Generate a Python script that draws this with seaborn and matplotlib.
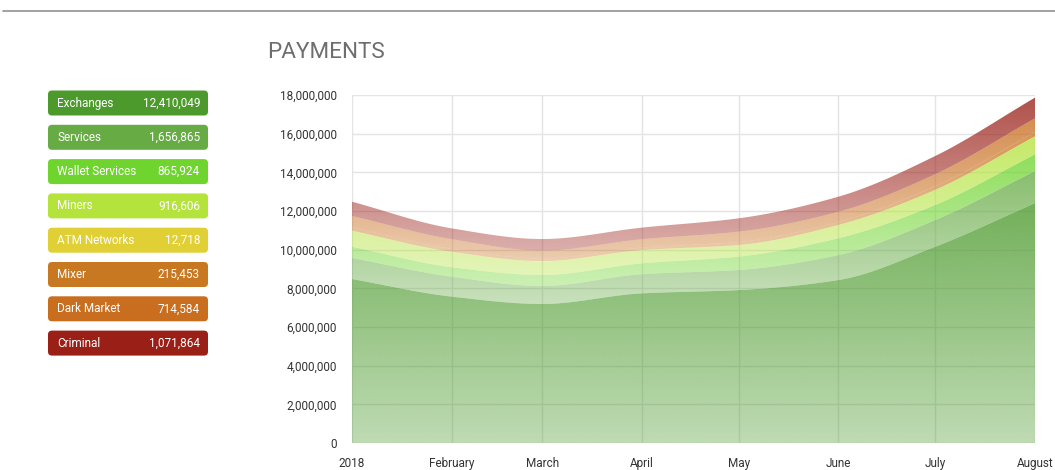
import numpy as np
import pandas as pd
import matplotlib
matplotlib.use("Agg")
import matplotlib.pyplot as plt
import matplotlib.dates as mdates
from matplotlib.patches import FancyBboxPatch, PathPatch
from matplotlib.colors import to_rgb
from matplotlib.ticker import FuncFormatter
import seaborn as sns

# monthly values (August = legend totals)
months = pd.date_range("2018-01-01", "2018-08-01", freq="MS")
month_labels = ["2018", "February", "March", "April", "May", "June", "July", "August"]

exchanges = [8480000, 7570000, 7190000, 7740000, 7910000, 8430000, 10150000, 12410049]
services = [1090000, 1030000, 930000, 990000, 1040000, 1290000, 1380000, 1656865]
wallet_services = [580000, 490000, 570000, 560000, 690000, 870000, 780000, 865924]
miners = [820000, 790000, 710000, 680000, 590000, 680000, 770000, 916606]
atm_networks = [10000, 10000, 10000, 10000, 11000, 11000, 12000, 12718]
mixer = [180000, 150000, 130000, 130000, 160000, 160000, 190000, 215453]
dark_market = [580000, 500000, 410000, 430000, 530000, 520000, 620000, 714584]
criminal = [740000, 560000, 600000, 600000, 690000, 780000, 940000, 1071864]

names = ["Exchanges", "Services", "Wallet Services", "Miners",
         "ATM Networks", "Mixer", "Dark Market", "Criminal"]
series = [exchanges, services, wallet_services, miners,
          atm_networks, mixer, dark_market, criminal]
colors = ["#4b9a2b", "#67ab45", "#6fd52e", "#b4e33c",
          "#e0cf35", "#c97822", "#c96e1f", "#9a1f17"]


def pchip(x, y, xs):
    # monotone cubic so the areas look like a smooth spline chart
    x = np.asarray(x, float)
    y = np.asarray(y, float)
    h = np.diff(x)
    d = np.diff(y) / h
    m = np.zeros_like(y)
    m[0], m[-1] = d[0], d[-1]
    for k in range(1, len(y) - 1):
        if d[k - 1] * d[k] > 0:
            w1 = 2 * h[k] + h[k - 1]
            w2 = h[k] + 2 * h[k - 1]
            m[k] = (w1 + w2) / (w1 / d[k - 1] + w2 / d[k])
    idx = np.clip(np.searchsorted(x, xs) - 1, 0, len(x) - 2)
    t = (xs - x[idx]) / h[idx]
    h00 = 2 * t**3 - 3 * t**2 + 1
    h10 = t**3 - 2 * t**2 + t
    h01 = -2 * t**3 + 3 * t**2
    h11 = t**3 - t**2
    return h00 * y[idx] + h10 * h[idx] * m[idx] + h01 * y[idx + 1] + h11 * h[idx] * m[idx + 1]


sns.set_theme(style="whitegrid")
plt.rcParams["font.family"] = ["Roboto", "DejaVu Sans"]

fig = plt.figure(figsize=(10.55, 4.7), dpi=100)
ax = fig.add_axes([352 / 1055, 27 / 470, 683 / 1055, 348 / 470])

x = mdates.date2num(months)
xs = np.linspace(x[0], x[-1], 500)
cum = np.cumsum(np.array(series, float), axis=0)

lower = np.zeros_like(xs)
for i, (name, col) in enumerate(zip(names, colors)):
    upper = pchip(x, cum[i], xs)
    poly = ax.fill_between(xs, lower, upper, facecolor="none", edgecolor="none")
    path = poly.get_paths()[0]
    clip = PathPatch(path, transform=ax.transData, facecolor="none", edgecolor="none")
    ax.add_patch(clip)
    # vertical gradient over the layer's own box, strong at top, faded at bottom
    r, g, b = to_rgb(col)
    grad = np.zeros((256, 1, 4))
    grad[:, 0, 0], grad[:, 0, 1], grad[:, 0, 2] = r, g, b
    grad[:, 0, 3] = np.linspace(0.78, 0.36, 256)
    im = ax.imshow(grad, extent=(xs[0], xs[-1], lower.min(), upper.max()),
                   aspect="auto", interpolation="bilinear", zorder=2)
    im.set_clip_path(clip)
    lower = upper

ax.set_xlim(x[0], x[-1])
ax.set_ylim(0, 18000000)
ax.set_xticks(x)
ax.set_xticklabels(month_labels)
ax.set_yticks(np.arange(0, 18000001, 2000000))
ax.yaxis.set_major_formatter(FuncFormatter(lambda v, p: f"{v:,.0f}"))
ax.grid(True, color="#e4e4e4", linewidth=1)
ax.set_axisbelow(True)
for s in ax.spines.values():
    s.set_visible(False)
ax.tick_params(axis="both", length=0, labelsize=8.5, colors="#333333")
ax.tick_params(axis="y", pad=11)
ax.tick_params(axis="x", pad=10)
ax.set_facecolor("white")

# legend boxes and title drawn in pixel space
ov = fig.add_axes([0, 0, 1, 1], zorder=-1)
ov.set_xlim(0, 1055)
ov.set_ylim(470, 0)
ov.axis("off")
ov.plot([3, 1055], [11, 11], color="#9a9a9a", lw=1.3)
ov.text(267, 52, "PAYMENTS", fontsize=16.2, color="#6e6e6e", va="center", ha="left")

for i, (name, col) in enumerate(zip(names, colors)):
    cy = 103 + i * 34.3
    ov.add_patch(FancyBboxPatch((48, cy - 12.5), 160, 25,
                                boxstyle="round,pad=0,rounding_size=4",
                                facecolor=col, edgecolor="none"))
    ov.text(57, cy, name, color="white", fontsize=8.5, va="center", ha="left")
    ov.text(200, cy, f"{series[i][-1]:,}", color="white", fontsize=8.5,
            va="center", ha="right")

fig.savefig("out.png", dpi=100)
